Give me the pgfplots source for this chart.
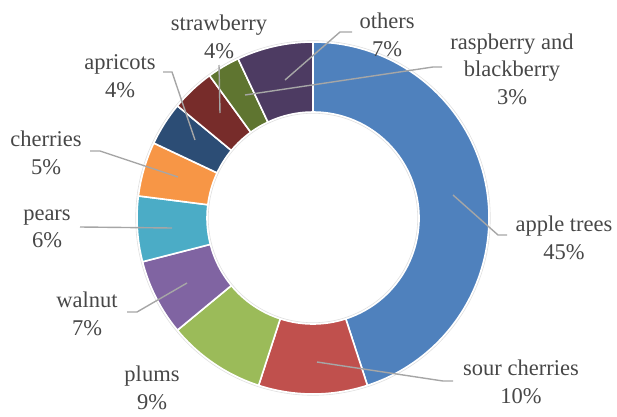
\documentclass[border=0pt]{standalone}
\usepackage{pgfplots}
\pgfplotsset{compat=1.18}
\usepackage{fontspec}
\setmainfont{Liberation Serif}
\definecolor{cApple}{HTML}{4F81BD}
\definecolor{cSour}{HTML}{C0504D}
\definecolor{cPlums}{HTML}{9BBB59}
\definecolor{cWalnut}{HTML}{8064A2}
\definecolor{cPears}{HTML}{4BACC6}
\definecolor{cCherries}{HTML}{F79646}
\definecolor{cApricots}{HTML}{2C4D75}
\definecolor{cStraw}{HTML}{772C2A}
\definecolor{cRasp}{HTML}{5F7530}
\definecolor{cOthers}{HTML}{4D3B62}
\definecolor{txt}{HTML}{474747}
\definecolor{lead}{HTML}{A6A6A6}
% segment: start %, end % (cumulative), colour
\newcommand{\seg}[3]{%
  \fill[#3, draw=white, line width=1.6pt]
    ([shift={({90-3.6*#1}:176pt)}]axis cs:313,198)
    arc[start angle={90-3.6*#1}, end angle={90-3.6*#2}, radius=176pt]
    -- ([shift={({90-3.6*#2}:106pt)}]axis cs:313,198)
    arc[start angle={90-3.6*#2}, end angle={90-3.6*#1}, radius=106pt]
    -- cycle;}
\begin{document}
\begin{tikzpicture}
\begin{axis}[name=ax, width=617pt, height=416pt, scale only axis,
  xmin=0, xmax=617, ymin=0, ymax=416, hide axis, clip=false]
% values (%): apple trees 45, sour cherries 10, plums 9, walnut 7, pears 6,
% cherries 5, apricots 4, strawberry 4, raspberry and blackberry 3, others 7
\seg{0}{45}{cApple}
\seg{45}{55}{cSour}
\seg{55}{64}{cPlums}
\seg{64}{71}{cWalnut}
\seg{71}{77}{cPears}
\seg{77}{82}{cCherries}
\seg{82}{86}{cApricots}
\seg{86}{90}{cStraw}
\seg{90}{93}{cRasp}
\seg{93}{100}{cOthers}
\draw[black!12, line width=0.6pt] (axis cs:313,198) circle[radius=177.3pt];
\draw[black!12, line width=0.6pt] (axis cs:313,198) circle[radius=104.7pt];
% leader lines
\addplot[lead, line width=1.4pt, mark=none] coordinates {(507,181) (498,181) (453,221)};
\addplot[lead, line width=1.4pt, mark=none] coordinates {(453,35) (443,35) (317,54)};
\addplot[lead, line width=1.4pt, mark=none] coordinates {(127,104) (137,104) (187,133)};
\addplot[lead, line width=1.4pt, mark=none] coordinates {(80,189) (172,188)};
\addplot[lead, line width=1.4pt, mark=none] coordinates {(90,265) (100,265) (178,239)};
\addplot[lead, line width=1.4pt, mark=none] coordinates {(163,344) (172,344) (195,276)};
\addplot[lead, line width=1.4pt, mark=none] coordinates {(219,351) (220,303)};
\addplot[lead, line width=1.4pt, mark=none] coordinates {(442,349) (433,349) (245,321)};
\addplot[lead, line width=1.4pt, mark=none] coordinates {(352,384) (340,384) (285,336)};
% labels
\tikzset{lbl/.style={align=center, text=txt, font=\fontsize{22.5}{27.5}\selectfont, inner sep=0pt}}
\node[lbl] at (axis cs:564,178) {apple trees\\45\%};
\node[lbl] at (axis cs:521,34) {sour cherries\\10\%};
\node[lbl] at (axis cs:152,28) {plums\\9\%};
\node[lbl] at (axis cs:87,102) {walnut\\7\%};
\node[lbl] at (axis cs:47,187) {pears\\6\%};
\node[lbl] at (axis cs:46,263) {cherries\\5\%};
\node[lbl] at (axis cs:120,340) {apricots\\4\%};
\node[lbl] at (axis cs:219,379) {strawberry\\4\%};
\node[lbl] at (axis cs:512,347) {raspberry and\\blackberry\\3\%};
\node[lbl] at (axis cs:387,381) {others\\7\%};
\end{axis}
\pgfresetboundingbox
\path[use as bounding box] (ax.south west) rectangle (ax.north east);
\end{tikzpicture}
\end{document}
